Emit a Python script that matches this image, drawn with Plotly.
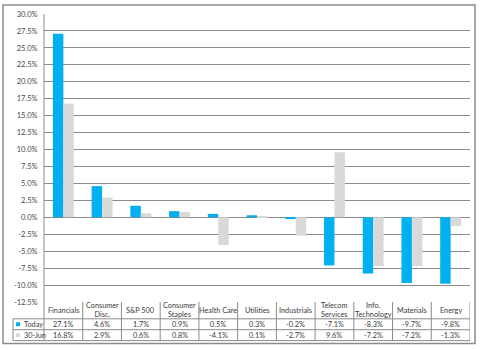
import plotly.graph_objects as go

# Sector returns: today vs. 30-Jun
categories = ["Financials", "Consumer<br>Disc.", "S&P 500", "Consumer<br>Staples", "Health Care",
              "Utilities", "Industrials", "Telecom<br>Services", "Info.<br>Technology",
              "Materials", "Energy"]
today = [27.1, 4.6, 1.7, 0.9, 0.5, 0.3, -0.2, -7.1, -8.3, -9.7, -9.8]
jun30 = [16.8, 2.9, 0.6, 0.8, -4.1, 0.1, -2.7, 9.6, -7.2, -7.2, -1.3]
series_names = ["Today", "30-Jun"]
y_ticks = [-12.5 + 2.5 * i for i in range(18)]

BLUE = "#00B0F0"
GRAY = "#D9D9D9"
LINE = "#8A8A8A"
TEXT = "#3A3A3A"
FONT = "Lato"

W, H = 480, 350
ML, MR, MT, MB = 44, 10, 11, 48
PW, PH = W - ML - MR, H - MT - MB

def py(pix):
    """Pixel row -> paper y."""
    return (H - MB - pix) / PH

def px(pix):
    """Pixel column -> paper x."""
    return (pix - ML) / PW

xs = list(range(len(categories)))

fig = go.Figure()
fig.add_bar(x=xs, y=today, name=series_names[0], marker=dict(color=BLUE, line_width=0))
fig.add_bar(x=xs, y=jun30, name=series_names[1], marker=dict(color=GRAY, line_width=0))

shapes = []
annotations = []

# plot-area left edge running down through the table
shapes.append(dict(type="line", xref="paper", yref="paper", x0=0, x1=0, y0=1, y1=py(341),
                   line=dict(color=LINE, width=1)))
# table horizontal rules
for yy in (319, 330, 341):
    shapes.append(dict(type="line", xref="paper", yref="paper", x0=px(13), x1=1,
                       y0=py(yy), y1=py(yy), line=dict(color=LINE, width=1)))
# table column separators
for i in range(len(categories)):
    xb = i + 0.5
    shapes.append(dict(type="line", xref="x", yref="paper", x0=xb, x1=xb,
                       y0=0, y1=py(341), line=dict(color=LINE, width=1)))
# legend column left edge
shapes.append(dict(type="line", xref="paper", yref="paper", x0=px(13), x1=px(13),
                   y0=py(319), y1=py(341), line=dict(color=LINE, width=1)))
# outer chart border
shapes.append(dict(type="rect", xref="paper", yref="paper", x0=px(3), x1=px(475),
                   y0=py(344), y1=py(2), line=dict(color="#8C8C8C", width=1.5)))

# header labels
for i, c in enumerate(categories):
    annotations.append(dict(x=i, y=py(310.5), xref="x", yref="paper", text=c, showarrow=False,
                            font=dict(family=FONT, size=7.3, color=TEXT),
                            xanchor="center", yanchor="middle"))
# value rows
for row_y, vals in [(324.5, today), (335.5, jun30)]:
    for i, v in enumerate(vals):
        annotations.append(dict(x=i, y=py(row_y), xref="x", yref="paper", text=f"{v:.1f}%",
                                showarrow=False, font=dict(family=FONT, size=7.3, color=TEXT),
                                xanchor="center", yanchor="middle"))
# legend keys
for row_y, name, col in [(324.5, series_names[0], BLUE), (335.5, series_names[1], GRAY)]:
    shapes.append(dict(type="rect", xref="paper", yref="paper", x0=px(16), x1=px(20),
                       y0=py(row_y + 2), y1=py(row_y - 2), fillcolor=col, line_width=0))
    annotations.append(dict(x=px(21.5), y=py(row_y), xref="paper", yref="paper", text=name,
                            showarrow=False, font=dict(family=FONT, size=7.3, color=TEXT),
                            xanchor="left", yanchor="middle"))

fig.update_layout(
    width=W, height=H,
    margin=dict(l=ML, r=MR, t=MT, b=MB),
    paper_bgcolor="white", plot_bgcolor="white",
    barmode="group", bargap=0.46, bargroupgap=0,
    showlegend=False,
    shapes=shapes, annotations=annotations,
    xaxis=dict(range=[-0.5, len(categories) - 0.5], showticklabels=False, showgrid=False,
               zeroline=False, showline=False, ticks=""),
    yaxis=dict(range=[-12.5, 30], tickvals=y_ticks, ticktext=[f"{v:.1f}%" for v in y_ticks],
               showgrid=True, gridcolor=LINE, gridwidth=1, zeroline=True, zerolinecolor=LINE,
               zerolinewidth=1, showline=False,
               ticks="outside", ticklen=4, tickcolor="rgba(0,0,0,0)",
               tickfont=dict(family=FONT, size=7.5, color="#4A4A4A")),
)

fig.write_html("out.html")
